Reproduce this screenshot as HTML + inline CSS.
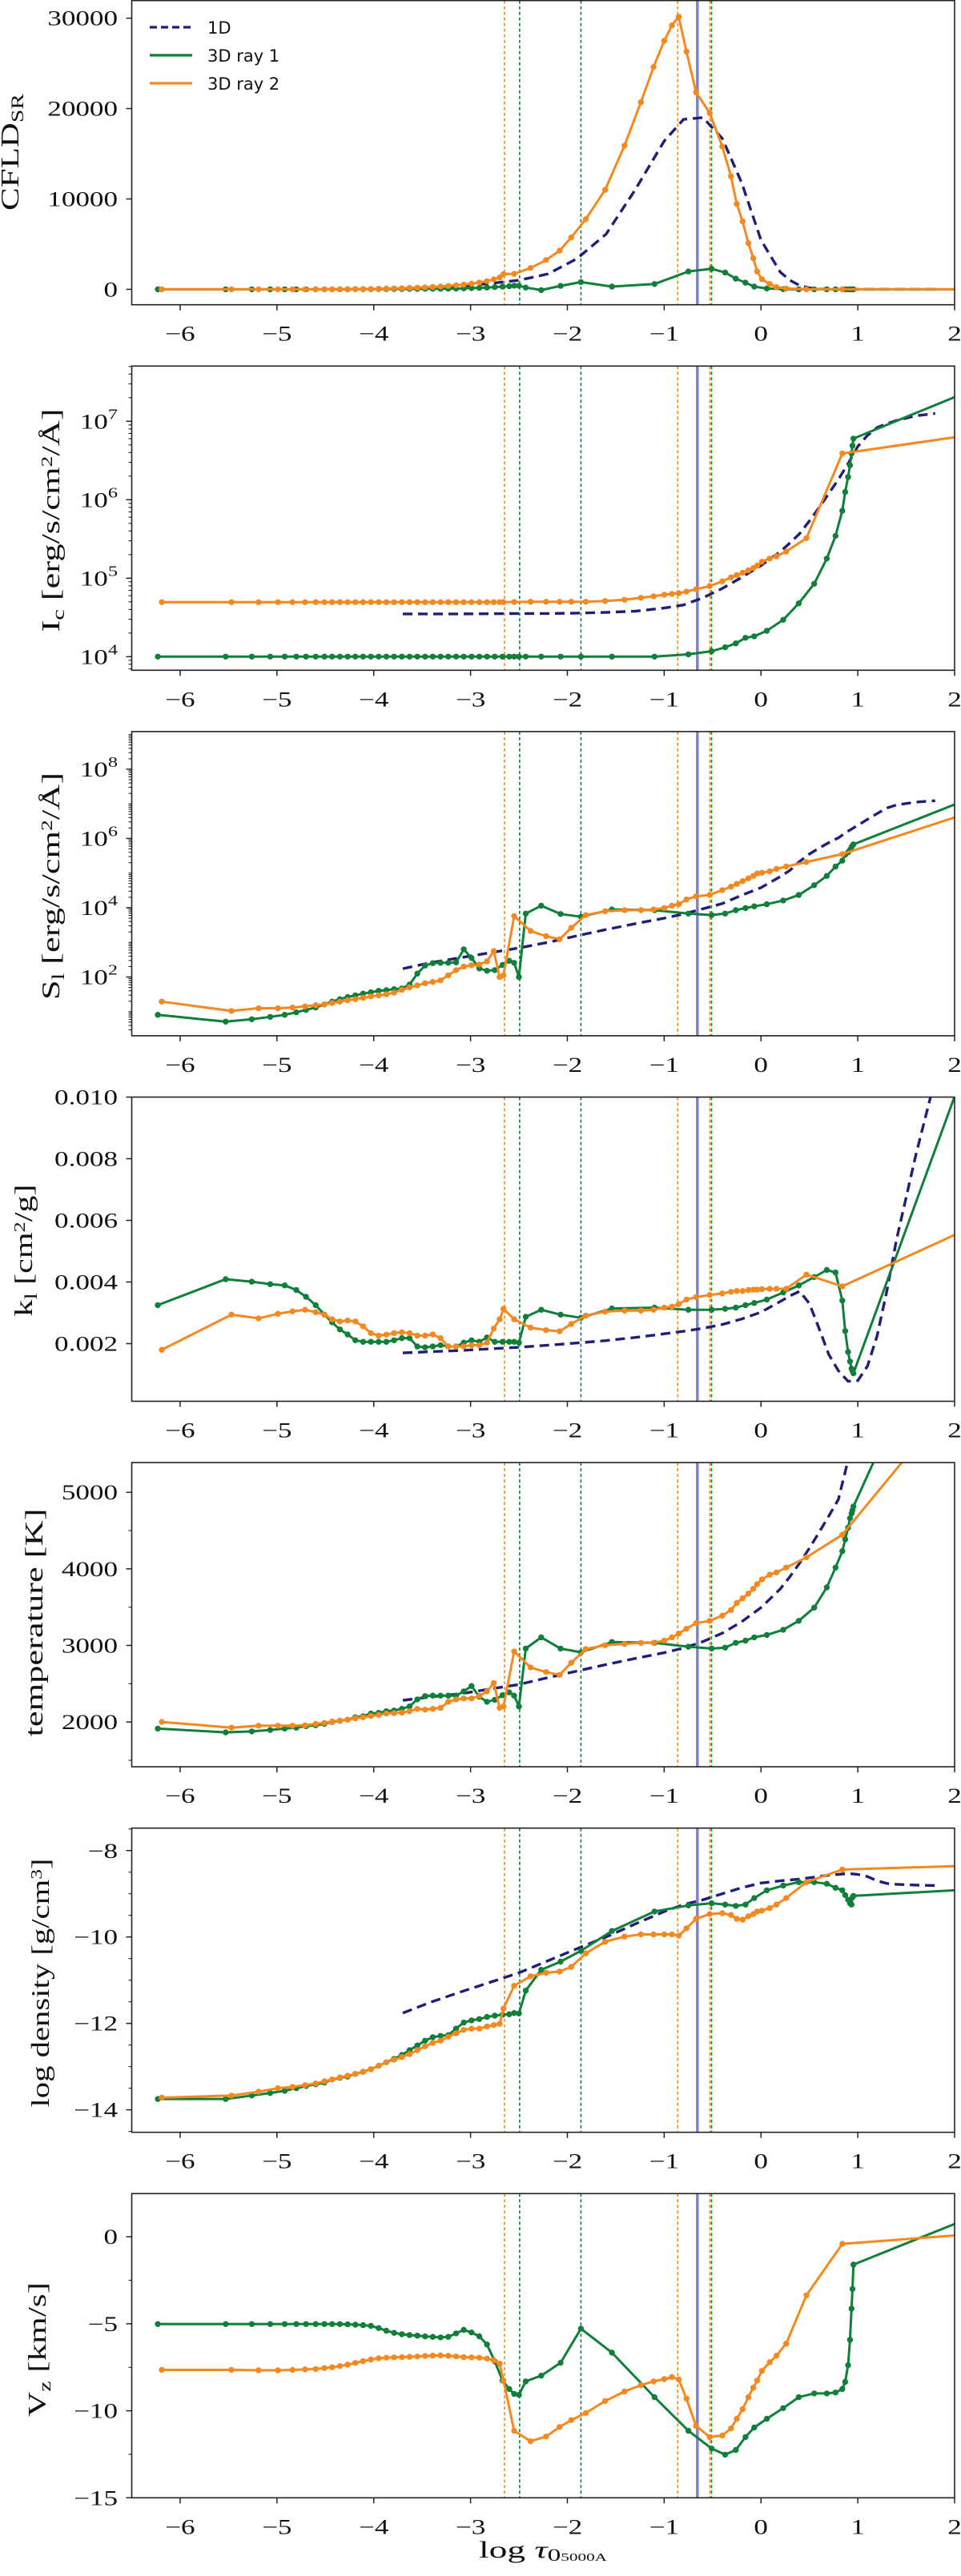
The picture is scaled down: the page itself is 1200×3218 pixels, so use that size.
<!DOCTYPE html>
<html><head><meta charset="utf-8"><title>Depth profiles</title>
<style>
html,body{margin:0;padding:0;background:#fff;}
svg{display:block;}
text{font-family:"Liberation Serif","DejaVu Serif",serif;fill:#111;}
.leg{font-family:"DejaVu Sans","Liberation Sans",sans-serif;font-size:21px;}
</style></head>
<body>
<svg id="chart" xmlns="http://www.w3.org/2000/svg" width="1200" height="3218" viewBox="0 0 1200 3218"></svg>
<script>
// ---- shared depth grids (log tau 5000A) ----
const tau1D = [-3.7,-3.4,-3.1,-2.8,-2.5,-2.2,-1.9,-1.6,-1.3,-1.0,-0.8,-0.6,-0.4,-0.2,0,0.2,0.3,0.4,0.5,0.6,0.7,0.8,0.9,1.0,1.1,1.2,1.3,1.4,1.6,1.8];
const tauRay1 = [-6.23,-5.53,-5.26,-5.07,-4.92,-4.80,-4.70,-4.60,-4.51,-4.43,
-4.35,-4.27,-4.19,-4.11,-4.03,-3.95,-3.87,-3.79,-3.71,-3.63,
-3.55,-3.47,-3.39,-3.31,-3.23,-3.15,-3.07,-2.99,-2.91,-2.83,
-2.75,-2.67,-2.60,-2.55,-2.50,-2.43,-2.27,-2.07,-1.86,-1.54,
-1.10,-0.75,-0.51,-0.37,-0.26,-0.16,-0.07,0.06,0.23,0.39,
0.55,0.68,0.77,0.84,0.87,0.90,0.92,0.935,0.945,0.955,2.3];
const tauRay2 = [-6.19,-5.47,-5.19,-4.99,-4.84,-4.71,-4.60,-4.51,-4.43,-4.35,
-4.27,-4.19,-4.11,-4.03,-3.95,-3.87,-3.79,-3.71,-3.63,-3.55,
-3.47,-3.39,-3.31,-3.23,-3.15,-3.07,-2.99,-2.91,-2.83,-2.76,
-2.70,-2.66,-2.55,-2.38,-2.22,-2.08,-1.96,-1.81,-1.61,-1.41,
-1.24,-1.11,-1.00,-0.92,-0.85,-0.77,-0.67,-0.53,-0.40,-0.31,
-0.25,-0.19,-0.13,-0.08,-0.04,0.01,0.09,0.16,0.26,0.47,0.84,2.3];

// ---- panel 1: CFLD_SR ----
const cfld1D = [100,200,350,650,1000,1700,3400,6100,11000,16400,18800,19000,16700,11800,5460,1900,1000,420,150,40,0,0,0,0,0,0,0,0,0,0];
const cfldRay1 = [0,0,0,0,0,0,0,0,0,0, 0,5,10,15,20,25,30,35,40,45, 50,55,60,65,70,80,100,130,160,200,
250,300,350,400,400,200,-90,380,800,300, 590,1980,2270,1860,1180,740,300,90,20,0, 0,0,0,0,0,0,0,0,0,0, 0];
const cfldRay2 = [0,0,0,0,0,0,0,0,5,10, 15,20,30,50,65,80,100,120,150,180, 220,260,310,370,440,520,620,750,900,1100,
1300,1680,1710,2360,3240,4280,5750,7760,11000,15900, 20700,24600,27500,29200,30160,26300,21800,19500,15800,12500,
9440,7520,5100,3450,1980,1120,590,240,90,0, 0,0];
const cfldTicks = [0,10000,20000,30000];
const cfldTickLabels = ['0','10000','20000','30000'];

// ---- panel 2: I_c (log10 values) ----
const icLog1D = [4.545,4.545,4.545,4.547,4.55,4.55,4.555,4.565,4.58,4.62,4.66,4.75,4.87,5.01,5.16,5.34,5.45,5.57,5.73,5.90,6.08,6.26,6.46,6.68,6.82,6.92,6.97,7.01,7.07,7.10];
const icLogRay1 = [4,4,4,4,4,4,4,4,4,4, 4,4,4,4,4,4,4,4,4,4, 4,4,4,4,4,4,4,4,4,4, 4,4,4,4,4,4,4,4,4,4,
4.0,4.03,4.07,4.12,4.17,4.24,4.26,4.33,4.47,4.68, 4.93,5.25,5.54,5.86,6.10,6.29,6.44,6.59,6.69,6.78, 7.46];
const icLogRay2 = [4.695,4.695,4.695,4.695,4.695,4.695,4.695,4.695,4.695,4.695, 4.695,4.695,4.695,4.695,4.695,4.695,4.695,4.695,4.695,4.695,
4.695,4.695,4.695,4.695,4.695,4.695,4.695,4.695,4.695,4.695, 4.695,4.695,4.697,4.70,4.70,4.70,4.70,4.70,4.71,4.725,
4.75,4.77,4.79,4.80,4.81,4.83,4.86,4.90,4.96,5.01, 5.04,5.07,5.10,5.13,5.16,5.21,5.25,5.28,5.34,5.51, 6.59,6.85];
const icTickExps = [4,5,6,7];

// ---- panel 3: S_l (log10 values) ----
const slLog1D = [2.24,2.42,2.56,2.70,2.84,3.00,3.19,3.37,3.54,3.70,3.82,3.97,4.12,4.36,4.58,4.90,5.08,5.34,5.55,5.72,5.88,6.02,6.21,6.38,6.55,6.72,6.88,6.97,7.05,7.09];
const slLogRay1 = [0.91,0.71,0.78,0.85,0.91,0.98,1.05,1.12,1.21,1.29, 1.36,1.42,1.47,1.52,1.56,1.60,1.62,1.65,1.67,1.78,
2.10,2.33,2.40,2.41,2.41,2.42,2.80,2.55,2.25,2.18, 2.20,2.35,2.47,2.41,2.00,3.83,4.06,3.82,3.74,3.95,
3.93,3.83,3.79,3.83,3.93,3.99,4.04,4.10,4.21,4.37, 4.65,4.92,5.19,5.36,5.53,5.60,5.67,5.75,5.80,5.83, 7.31];
const slLogRay2 = [1.29,1.02,1.10,1.10,1.12,1.15,1.19,1.21,1.25,1.29, 1.33,1.36,1.40,1.44,1.47,1.50,1.55,1.63,1.70,1.76,
1.82,1.86,1.90,2.05,2.20,2.30,2.34,2.36,2.45,2.75, 2.00,2.05,3.76,3.33,3.18,3.09,3.42,3.79,3.90,3.93,
3.93,3.95,3.99,4.06,4.10,4.24,4.33,4.37,4.51,4.61, 4.69,4.77,4.85,4.92,4.99,5.01,5.05,5.12,5.19,5.32, 5.55,6.88];
const slTickExps = [2,4,6,8];

// ---- panel 4: k_l (units of 1e-3 cm2/g) ----
const kl1D = [1.70,1.74,1.78,1.83,1.88,1.95,2.02,2.10,2.20,2.32,2.40,2.50,2.62,2.80,3.02,3.37,3.55,3.70,3.30,2.49,1.65,1.12,0.78,0.80,1.27,2.26,3.71,5.38,8.12,10.6];
const klRay1 = [3.25,4.09,4.01,3.93,3.89,3.74,3.52,3.25,2.94,2.69, 2.46,2.30,2.11,2.06,2.06,2.06,2.06,2.11,2.18,2.18,
1.91,1.88,1.91,1.95,1.91,1.91,2.03,2.11,2.06,2.20, 2.06,2.06,2.06,2.06,2.03,2.87,3.10,2.94,2.84,3.14,
3.17,3.10,3.10,3.13,3.17,3.25,3.32,3.43,3.66,3.89, 4.16,4.39,4.31,3.40,2.41,1.73,1.42,1.19,1.12,1.04, 12.6];
const klRay2 = [1.80,2.94,2.82,2.97,3.05,3.10,3.02,2.94,2.79,2.72, 2.75,2.72,2.56,2.34,2.26,2.29,2.34,2.37,2.34,2.26,
2.26,2.30,2.18,1.91,1.91,1.91,1.95,1.95,2.03,2.49, 2.79,3.13,2.79,2.52,2.44,2.40,2.64,2.91,3.04,3.07,
3.07,3.10,3.17,3.20,3.28,3.43,3.51,3.58,3.63,3.68, 3.71,3.71,3.74,3.75,3.75,3.77,3.78,3.78,3.78,4.24, 3.86,5.96];
const klTicks = [2,4,6,8,10];
const klTickLabels = ['0.002','0.004','0.006','0.008','0.010'];

// ---- panel 5: temperature [K] ----
const temp1D = [2283,2330,2370,2430,2490,2580,2665,2750,2830,2905,2965,3050,3160,3309,3494,3739,3900,4077,4270,4477,4690,4907,5420,5900,6400,6900,7300,7700,8300,8800];
const tempRay1 = [1914,1865,1877,1896,1914,1926,1945,1957,1975,2000, 2015,2030,2061,2075,2110,2120,2141,2150,2172,2203,
2295,2338,2344,2344,2344,2344,2400,2470,2330,2264, 2290,2350,2387,2344,2203,2959,3106,2959,2910,3045,
3033,2983,2959,2971,3033,3063,3106,3137,3205,3321, 3494,3758,4016,4231,4385,4538,4661,4723,4766,4815, 8570];
const tempRay2 = [2000,1926,1951,1951,1951,1957,1975,1988,2006,2018, 2030,2049,2061,2080,2092,2110,2115,2123,2141,2172,
2160,2172,2184,2264,2295,2307,2307,2340,2400,2510, 2184,2203,2922,2713,2652,2615,2774,2953,3002,3020,
3033,3033,3063,3106,3155,3217,3291,3321,3389,3463, 3555,3616,3678,3739,3801,3862,3924,3955,4016,4151, 4446,6686];
const tempTicks = [2000,3000,4000,5000];
const tempTickLabels = ['2000','3000','4000','5000'];

// ---- panel 6: log density [g/cm3] ----
const rho1D = [-11.76,-11.50,-11.27,-11.05,-10.83,-10.55,-10.27,-10.00,-9.70,-9.41,-9.25,-9.14,-9.00,-8.86,-8.75,-8.70,-8.68,-8.66,-8.63,-8.60,-8.57,-8.55,-8.53,-8.55,-8.60,-8.70,-8.76,-8.78,-8.80,-8.81];
const rhoRay1 = [-13.75,-13.75,-13.67,-13.61,-13.56,-13.50,-13.45,-13.41,-13.37,-13.30, -13.26,-13.23,-13.17,-13.12,-13.06,-12.98,-12.90,-12.82,-12.73,-12.62,
-12.51,-12.40,-12.32,-12.29,-12.27,-12.12,-11.98,-11.93,-11.90,-11.85, -11.82,-11.80,-11.79,-11.76,-11.77,-11.24,-10.76,-10.57,-10.32,-9.86,
-9.41,-9.27,-9.22,-9.25,-9.28,-9.25,-9.10,-8.92,-8.81,-8.73, -8.73,-8.77,-8.86,-8.92,-9.03,-9.14,-9.22,-9.25,-9.08,-9.05, -8.88];
const rhoRay2 = [-13.72,-13.67,-13.58,-13.50,-13.47,-13.43,-13.39,-13.34,-13.30,-13.25, -13.21,-13.17,-13.12,-13.06,-12.98,-12.90,-12.84,-12.78,-12.71,-12.62,
-12.53,-12.45,-12.40,-12.31,-12.23,-12.15,-12.12,-12.12,-12.07,-12.04, -12.01,-11.66,-11.13,-10.91,-10.83,-10.80,-10.69,-10.38,-10.11,-9.99,
-9.94,-9.94,-9.94,-9.94,-9.97,-9.80,-9.58,-9.47,-9.45,-9.49, -9.58,-9.60,-9.52,-9.47,-9.41,-9.39,-9.33,-9.25,-9.10,-8.73, -8.44,-8.34];
const rhoTicks = [-14,-12,-10,-8];
const rhoTickLabels = ['\u221214','\u221212','\u221210','\u22128'];

// ---- panel 7: V_z [km/s] ----
const vzRay1 = [-5.02,-5.02,-5.02,-5.02,-5.02,-5.02,-5.02,-5.02,-5.02,-5.02, -5.02,-5.03,-5.05,-5.08,-5.12,-5.25,-5.40,-5.52,-5.60,-5.65,
-5.68,-5.72,-5.75,-5.78,-5.75,-5.55,-5.35,-5.50,-5.72,-6.19, -7.16,-8.26,-8.75,-9.03,-9.08,-8.31,-7.98,-7.24,-5.28,-6.66,
-9.22,-11.15,-12.17,-12.52,-12.25,-11.51,-10.96,-10.46,-9.85,-9.22, -9.00,-9.00,-8.95,-8.75,-8.34,-7.38,-5.92,-4.13,-3.0,-1.60, 1.41];
const vzRay2 = [-7.65,-7.65,-7.67,-7.67,-7.65,-7.62,-7.60,-7.55,-7.50,-7.43, -7.35,-7.25,-7.15,-7.05,-6.98,-6.95,-6.93,-6.92,-6.90,-6.88,
-6.85,-6.83,-6.82,-6.84,-6.88,-6.92,-6.93,-6.95,-7.00,-7.10, -7.29,-8.26,-11.15,-11.75,-11.48,-10.93,-10.54,-10.13,-9.44,-8.89,
-8.53,-8.31,-8.18,-8.06,-8.20,-9.30,-10.87,-11.51,-11.42,-11.01, -10.46,-9.91,-9.22,-8.67,-8.26,-7.71,-7.21,-6.83,-6.14,-3.36, -0.41,0.2];
const vzTicks = [-15,-10,-5,0];
const vzTickLabels = ['\u221215','\u221210','\u22125','0'];

// ---- shared x axis and reference depths ----
const xTicks = [-6,-5,-4,-3,-2,-1,0,1,2];
const xTickLabels = ['\u22126','\u22125','\u22124','\u22123','\u22122','\u22121','0','1','2'];
const markRay1 = [-2.493,-1.86,-0.511];
const markRay2 = [-2.649,-0.86,-0.528];
const mark1D = [-0.657];

const NS = 'http://www.w3.org/2000/svg';
const svg = document.getElementById('chart');
const C1D = '#1f1f78', CG = '#0f7f3a', CO = '#f5891f';
const XL = 164.5, XR = 1192, XMIN = -6.5, XMAX = 2;
function xs(v){ return XL + (v - XMIN) / (XMAX - XMIN) * (XR - XL); }
function mk(tag, parent){ const e = document.createElementNS(NS, tag); parent.appendChild(e); return e; }
function set(e, o){ for (const k in o) e.setAttribute(k, o[k]); return e; }

const defs = mk('defs', svg);

const panels = [
 {name:'cfld', ymin:-1708, ymax:31947, s1D:cfld1D, s1:cfldRay1, s2:cfldRay2, ticks:cfldTicks, labels:cfldTickLabels, minor:[]},
 {name:'ic', ymin:3.827, ymax:7.704, s1D:icLog1D, s1:icLogRay1, s2:icLogRay2, ticks:icTickExps, exp:true, logMinor:true},
 {name:'sl', ymin:0.304, ymax:9.086, s1D:slLog1D, s1:slLogRay1, s2:slLogRay2, ticks:slTickExps, exp:true, logMinor:true},
 {name:'kl', ymin:0.13, ymax:10.0, s1D:kl1D, s1:klRay1, s2:klRay2, ticks:klTicks, labels:klTickLabels, minor:[]},
 {name:'temperature', ymin:1415, ymax:5388, s1D:temp1D, s1:tempRay1, s2:tempRay2, ticks:tempTicks, labels:tempTickLabels, minor:[1500,2500,3500,4500]},
 {name:'density', ymin:-14.52, ymax:-7.48, s1D:rho1D, s1:rhoRay1, s2:rhoRay2, ticks:rhoTicks, labels:rhoTickLabels, minor:[-14.5,-13.5,-13,-12.5,-11.5,-11,-10.5,-9.5,-9,-8.5,-7.5]},
 {name:'vz', ymin:-15, ymax:2.48, s1D:null, s1:vzRay1, s2:vzRay2, ticks:vzTicks, labels:vzTickLabels, minor:[-12.5,-7.5,-2.5]}
];

panels.forEach(function(p, i){
  const top = 0.7 + i * 456.6, bot = top + 380;
  const ys = function(v){ return bot - (v - p.ymin) / (p.ymax - p.ymin) * (bot - top); };
  const g = mk('g', svg);
  
  

  const cp = mk('clipPath', defs);
  cp.setAttribute('id', 'clip' + i);
  set(mk('rect', cp), {x:XL, y:top, width:XR-XL, height:bot-top});

  const plot = mk('g', g);
  plot.setAttribute('clip-path', 'url(#clip' + i + ')');
  
  

  // reference depth lines
  markRay2.forEach(function(v){
    const l = mk('line', plot);
    set(l, {x1:xs(v), x2:xs(v), y1:top, y2:bot, stroke:CO, 'stroke-width':1.6, 'stroke-dasharray':'4,3'});
    
    
  });
  markRay1.forEach(function(v){
    const l = mk('line', plot);
    set(l, {x1:xs(v), x2:xs(v), y1:top, y2:bot, stroke:CG, 'stroke-width':1.6, 'stroke-dasharray':'4,3'});
    
    
  });
  mark1D.forEach(function(v){
    const l = mk('line', plot);
    set(l, {x1:xs(v), x2:xs(v), y1:top, y2:bot, stroke:'#6a6ac8', 'stroke-width':3.5, 'stroke-opacity':0.85});
    
    
  });

  // 1D dashed curve
  if (p.s1D) {
    const pts = tau1D.map(function(t, k){ return xs(t).toFixed(1) + ',' + ys(p.s1D[k]).toFixed(1); }).join(' ');
    const pl = mk('polyline', plot);
    set(pl, {points:pts, fill:'none', stroke:C1D, 'stroke-width':3.4, 'stroke-dasharray':'12,7'});
    
    
  }
  // rays
  [[p.s1, tauRay1, CG, 'ray1'], [p.s2, tauRay2, CO, 'ray2']].forEach(function(s){
    const vals = s[0], taus = s[1];
    const pts = taus.map(function(t, k){ return xs(t).toFixed(1) + ',' + ys(vals[k]).toFixed(1); }).join(' ');
    const pl = mk('polyline', plot);
    set(pl, {points:pts, fill:'none', stroke:s[2], 'stroke-width':3, 'stroke-linejoin':'round'});
    
    
    taus.forEach(function(t, k){
      const c = mk('circle', plot);
      set(c, {cx:xs(t).toFixed(1), cy:ys(vals[k]).toFixed(1), r:3.7, fill:s[2]});
      
      
    });
  });

  // frame
  const fr = mk('rect', g);
  set(fr, {x:XL, y:top, width:XR-XL, height:bot-top, fill:'none', stroke:'#222', 'stroke-width':1.6});
  
  

  // x ticks
  xTicks.forEach(function(v, k){
    const t = mk('line', g);
    set(t, {x1:xs(v), x2:xs(v), y1:bot, y2:bot+7, stroke:'#222', 'stroke-width':1.5});
    
    
    const tx = mk('text', g);
    set(tx, {transform:'translate(' + xs(v).toFixed(1) + ',' + (bot+45) + ') scale(1.35,1)', 'text-anchor':'middle', 'font-size':26});
    tx.textContent = xTickLabels[k];
    
    
  });

  // y ticks
  p.ticks.forEach(function(v, k){
    const y = ys(v);
    const t = mk('line', g);
    set(t, {x1:XL-7, x2:XL, y1:y, y2:y, stroke:'#222', 'stroke-width':1.5});
    
    
    const tx = mk('text', g);
    set(tx, {transform:'translate(147,' + (y+9).toFixed(1) + ') scale(1.35,1)', 'text-anchor':'end', 'font-size':26});
    if (p.exp) {
      tx.textContent = '10';
      const sp = mk('tspan', tx);
      set(sp, {dy:-12, 'font-size':18});
      sp.textContent = String(v);
    } else {
      tx.textContent = p.labels[k];
    }
    
    
  });
  // minor ticks
  let minors = p.minor ? p.minor.slice() : [];
  if (p.logMinor) {
    for (let d = Math.floor(p.ymin); d <= Math.ceil(p.ymax); d++) {
      for (let m = 1; m <= 9; m++) {
        const lv = d + Math.log10(m);
        if (lv > p.ymin && lv < p.ymax && p.ticks.indexOf(lv) < 0) minors.push(lv);
      }
    }
  }
  minors.forEach(function(v){
    const t = mk('line', g);
    set(t, {x1:XL-4, x2:XL, y1:ys(v), y2:ys(v), stroke:'#222', 'stroke-width':1.1});
    
    
  });
});

// y-axis titles
function ylab(name, cx, cy, len, build){
  const t = mk('text', svg);
  set(t, {transform:'translate(' + cx + ',' + cy + ') rotate(-90)', 'text-anchor':'middle', 'font-size':32, textLength:len, lengthAdjust:'spacingAndGlyphs'});
  build(t);
  
  
}
function sub(t, s, shift, size){ const sp = mk('tspan', t); set(sp, {'baseline-shift':shift, 'font-size':size}); sp.textContent = s; return sp; }
function txt(t, s){ const sp = mk('tspan', t); sp.textContent = s; return sp; }

ylab('cfld-y-axis-title', 23, 190, 146, function(t){ txt(t,'CFLD'); sub(t,'SR','-25%',22); });
ylab('ic-y-axis-title', 74, 650, 279, function(t){ txt(t,'I'); sub(t,'c','-25%',22); txt(t,' [erg/s/cm'); sub(t,'2','45%',20); txt(t,'/\u00C5]'); });
ylab('sl-y-axis-title', 74, 1107, 284, function(t){ txt(t,'S'); sub(t,'l','-25%',22); txt(t,' [erg/s/cm'); sub(t,'2','45%',20); txt(t,'/\u00C5]'); });
ylab('kl-y-axis-title', 40, 1562, 165, function(t){ txt(t,'k'); sub(t,'l','-25%',22); txt(t,' [cm'); sub(t,'2','45%',20); txt(t,'/g]'); });
ylab('temperature-y-axis-title', 53, 2027, 285, function(t){ txt(t,'temperature [K]'); });
ylab('density-y-axis-title', 61, 2477, 311, function(t){ txt(t,'log density [g/cm'); sub(t,'3','45%',20); txt(t,']'); });
ylab('vz-y-axis-title', 57, 2935, 168, function(t){ txt(t,'V'); sub(t,'z','-25%',22); txt(t,' [km/s]'); });

// x-axis title
const xt = mk('text', svg);
set(xt, {x:678, y:3195, 'text-anchor':'middle', 'font-size':30, textLength:160, lengthAdjust:'spacingAndGlyphs'});
txt(xt, 'log ');
const tau = txt(xt, '\u03C4'); tau.setAttribute('font-style', 'italic');
sub(xt, '0', '-20%', 22);
sub(xt, '5000A', '-25%', 14);



// legend
const leg = mk('g', svg);


const legendLabels = ['1D', '3D ray 1', '3D ray 2'];
const legendColors = [C1D, CG, CO];
legendLabels.forEach(function(lbl, k){
  const yl = [34, 69, 104][k];
  const item = mk('g', leg);
  
  
  const l = mk('line', item);
  set(l, {x1:187, x2:240, y1:yl, y2:yl, stroke:legendColors[k], 'stroke-width':3.2});
  if (k === 0) l.setAttribute('stroke-dasharray', '9,5');
  
  
  const tx = mk('text', item);
  set(tx, {x:259, y:yl + 8, 'class':'leg'});
  tx.textContent = lbl;
  
  
});
</script>
</body></html>
